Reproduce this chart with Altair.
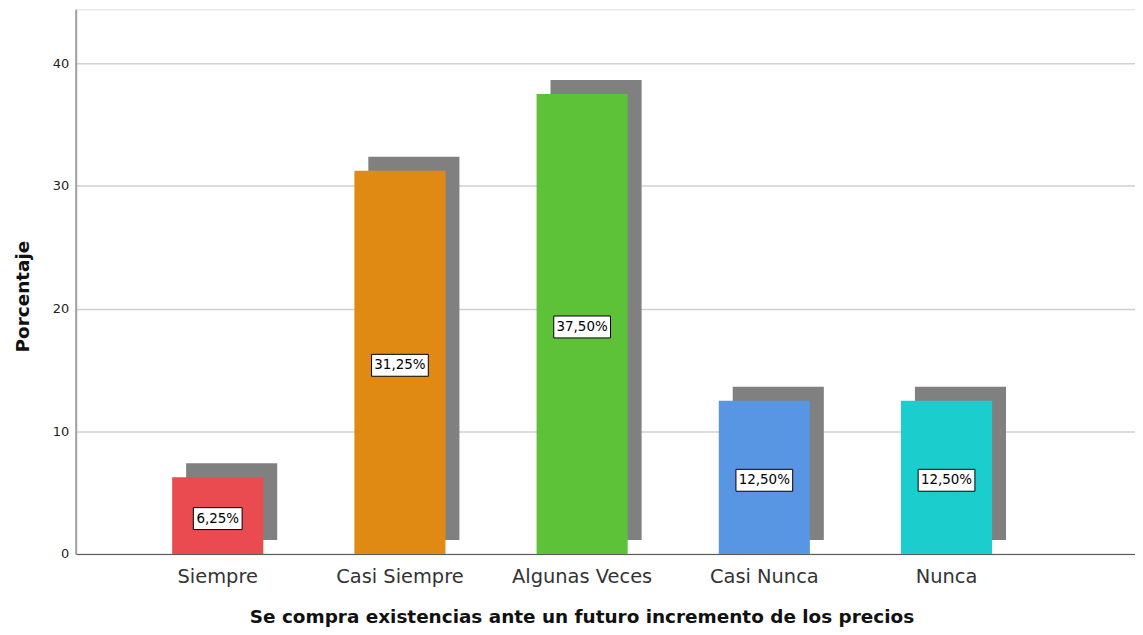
import altair as alt
import pandas as pd

categories = ["Siempre", "Casi Siempre", "Algunas Veces", "Casi Nunca", "Nunca"]
values = [6.25, 31.25, 37.5, 12.5, 12.5]
labels = ["6,25%", "31,25%", "37,50%", "12,50%", "12,50%"]
colors = ["#EA4B50", "#E08A13", "#5DC238", "#5895E3", "#1BCDCD"]

df = pd.DataFrame({"cat": categories, "val": values, "lab": labels})

FONT = "DejaVu Sans"

xscale = alt.Scale(domain=categories, paddingInner=0.5, paddingOuter=0.657, align=0.403)
yscale = alt.Scale(domain=[0, 44.4], nice=False)

x_enc = alt.X("cat:N", scale=xscale, sort=categories,
              axis=alt.Axis(title="Se compra existencias ante un futuro incremento de los precios",
                            labelAngle=0, labelFontSize=19.5, labelColor="#333333",
                            labelFont=FONT, labelPadding=14, ticks=False,
                            domainColor="#555555", domainWidth=1,
                            titleFont=FONT, titleFontSize=18.5, titleFontWeight="bold",
                            titleColor="#111111", titlePadding=21, titleX=508, titleAnchor="start",
                            titleAlign="center"))
y_enc = alt.Y("val:Q", scale=yscale,
              axis=alt.Axis(title="Porcentaje", values=[0, 10, 20, 30, 40], ticks=False,
                            labelFontSize=13, labelColor="#222222", labelFont=FONT,
                            labelPadding=7, grid=True, gridColor="#D0D0D0", gridWidth=1.5,
                            domainColor="#A0A0A0", domainWidth=2,
                            titleFont=FONT, titleFontSize=18.5, titleFontWeight="bold",
                            titleColor="#111111", titlePadding=20, titleY=288))

base = alt.Chart(df)

shadow = base.mark_bar(color="#808080", xOffset=14, x2Offset=14, yOffset=-14, y2Offset=-14).encode(
    x=x_enc, y=y_enc, y2=alt.datum(0)
)

bars = base.mark_bar().encode(
    x=alt.X("cat:N", scale=xscale, sort=categories),
    y=alt.Y("val:Q", scale=yscale),
    color=alt.Color("cat:N", scale=alt.Scale(domain=categories, range=colors), legend=None),
)

box = base.transform_calculate(
    half="datum.val / 2", bw="length(datum.lab) * 8 + 9"
).mark_bar(fill="white", stroke="black", strokeWidth=1, yOffset=-8, y2Offset=14).encode(
    x=alt.X("cat:N", scale=xscale, sort=categories),
    y=alt.Y("half:Q", scale=yscale),
    y2=alt.Y2("half:Q"),
    size=alt.Size("bw:Q", scale=None, legend=None),
)

text = base.transform_calculate(half="datum.val / 2").mark_text(
    font=FONT, fontSize=13.5, color="black", baseline="middle", align="center", dy=3
).encode(
    x=alt.X("cat:N", scale=xscale, sort=categories),
    y=alt.Y("half:Q", scale=yscale),
    text="lab:N",
)

chart = alt.layer(shadow, bars, box, text).properties(
    width=1064, height=547,
    autosize=alt.AutoSizeParams(type="none"),
    padding={"left": 68, "top": 0, "right": 0, "bottom": 76},
).configure_view(stroke=None).configure(background="white")

chart.save("out.html", embed_options={"renderer": "svg", "actions": False})
